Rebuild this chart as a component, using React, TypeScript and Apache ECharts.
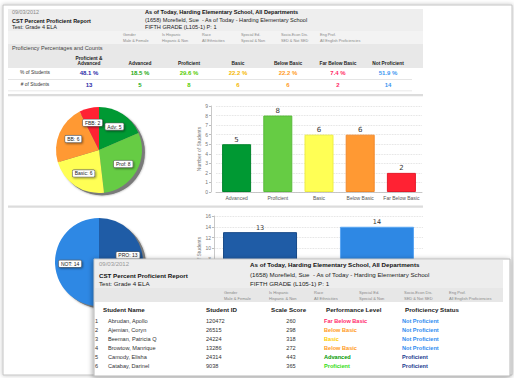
import React, { useEffect, useRef } from 'react';
import * as echarts from 'echarts';

// ---------- data ----------
const levels = ['Advanced', 'Proficient', 'Basic', 'Below Basic', 'Far Below Basic'];
const levelShort = ['Adv', 'Prof', 'Basic', 'BB', 'FBB'];
const levelCounts = [5, 8, 6, 6, 2];
const levelColors = ['#009933', '#66cc44', '#ffff55', '#ff9933', '#ff2233'];
const levelBorders = ['#00852c', '#58bb3a', '#eeee44', '#f2892a', '#e51a2a'];

const statusNames = ['Proficient', 'Not Proficient'];
const statusShort = ['PRO', 'NOT'];
const statusCounts = [13, 14];
const statusColors = ['#1f5ca6', '#2e88e4'];
const statusBorders = ['#174a88', '#5aa6f2'];

const summaryHeaders = [['Proficient &', 'Advanced'], ['Advanced'], ['Proficient'], ['Basic'], ['Below Basic'], ['Far Below Basic'], ['Not Proficient']];
const summaryPct = ['48.1 %', '18.5 %', '29.6 %', '22.2 %', '22.2 %', '7.4 %', '51.9 %'];
const summaryCounts = ['13', '5', '8', '6', '6', '2', '14'];
const summaryColors = ['#2b2ba8', '#22aa11', '#55cc00', '#f5b800', '#ff9a22', '#ff2a66', '#3a96f0'];

const filterNames = ['Gender', 'Is Hispanic', 'Race', 'Special Ed.', 'Socio-Econ Dis.', 'Eng Prof.'];
const filterValues = ['Male & Female', 'Hispanic & Non', 'All Ethnicities', 'Special & Non', 'SED & Not SED', 'All English Proficiencies'];

const tableHeaders = ['Student Name', 'Student ID', 'Scale Score', 'Performance Level', 'Proficiency Status'];
const studentNames = ['Abrudan, Apollo', 'Ajemian, Coryn', 'Beeman, Patricia Q', 'Browtow, Manrique', 'Camody, Elisha', 'Catabay, Darinel'];
const studentIds = ['120472', '26515', '24224', '13286', '24314', '9038'];
const scaleScores = ['260', '298', '318', '272', '443', '365'];
const perfLevels = ['Far Below Basic', 'Below Basic', 'Basic', 'Below Basic', 'Advanced', 'Proficient'];
const profStatus = ['Not Proficient', 'Not Proficient', 'Not Proficient', 'Not Proficient', 'Proficient', 'Proficient'];

const perfColor: Record<string, string> = {
  'Far Below Basic': '#ff2a6a',
  'Below Basic': '#ff9a1a',
  'Basic': '#ffcc00',
  'Advanced': '#009a00',
  'Proficient': '#33dd11',
};
const statusColor: Record<string, string> = {
  'Not Proficient': '#2f8cf0',
  'Proficient': '#1d3d8f',
};

const dateText = '09/03/2012';
const reportTitle = 'CST Percent Proficient Report';
const testText = 'Test: Grade 4 ELA';
const schoolLine = 'As of Today, Harding Elementary School, All Departments';
const teacherLine = '(1658) Morefield, Sue  - As of Today - Harding Elementary School';
const gradeLine = 'FIFTH GRADE (L105-1) P: 1';

const FONT = '"Liberation Sans", Arial, Helvetica, sans-serif';

function txt(x: number, y: number, text: string, size: number, o: any = {}) {
  return {
    type: 'text',
    x,
    y,
    z: o.z ?? 5,
    silent: true,
    style: {
      text,
      fontSize: size,
      fontFamily: FONT,
      fontWeight: o.bold ? 'bold' : 'normal',
      fill: o.color ?? '#333',
      textAlign: o.align ?? 'left',
      align: o.align ?? 'left',
      textVerticalAlign: 'middle',
      verticalAlign: 'middle',
    },
  };
}
function rect(x: number, y: number, w: number, h: number, fill: string, z = 1, extra: any = {}) {
  return { type: 'rect', z, silent: true, shape: { x, y, width: w, height: h }, style: { fill, ...extra } };
}

// pie geometry (layout, not data)
const PIE1 = { cx: 99, cy: 150, r: 43, labelR: 28 };
const PIE2 = { cx: 99, cy: 262, r: 44, labelR: 29 };

function buildGraphics() {
  const g: any[] = [];
  // page frame
  g.push(rect(3, 5, 509, 370, '#ffffff', 0, { stroke: '#c4c4c4', lineWidth: 1, shadowBlur: 4, shadowColor: 'rgba(0,0,0,0.25)' }));
  // top header
  g.push(rect(8, 9, 415, 22, '#eeeeee', 1));
  g.push(rect(8, 31, 415, 13, '#f3f3f3', 1));
  g.push(rect(8, 44, 415, 24, '#e8e8e8', 1));
  g.push(txt(12, 12, dateText, 5.4, { color: '#888' }));
  g.push(txt(12, 20.5, reportTitle, 5.5, { bold: true, color: '#111' }));
  g.push(txt(12, 26.7, testText, 5.5, { color: '#222' }));
  g.push(txt(145, 12, schoolLine, 5.6, { bold: true, color: '#111' }));
  g.push(txt(145, 20, teacherLine, 5.6, { color: '#222' }));
  g.push(txt(145, 26.7, gradeLine, 5.6, { color: '#222' }));
  const fx = [123, 162, 202, 241, 281, 320];
  filterNames.forEach((n, i) => {
    g.push(txt(fx[i], 35, n, 3.8, { color: '#888' }));
    g.push(txt(fx[i], 40.7, filterValues[i], 3.8, { color: '#888' }));
  });
  g.push(txt(12, 48.3, 'Proficiency Percentages and Counts', 5.6, { color: '#444' }));
  const cx = [89, 140, 189, 238, 288, 338, 388];
  summaryHeaders.forEach((h, i) => {
    if (h.length === 2) {
      g.push(txt(cx[i], 58.3, h[0], 4.8, { bold: true, color: '#222', align: 'center' }));
      g.push(txt(cx[i], 63.3, h[1], 4.8, { bold: true, color: '#222', align: 'center' }));
    } else {
      g.push(txt(cx[i], 63.3, h[0], 4.8, { bold: true, color: '#222', align: 'center' }));
    }
    g.push(txt(cx[i], 73.3, summaryPct[i], 6, { bold: true, color: summaryColors[i], align: 'center' }));
    g.push(txt(cx[i], 85, summaryCounts[i], 6, { bold: true, color: summaryColors[i], align: 'center' }));
  });
  g.push(txt(35, 72.5, '% of Students', 4.8, { color: '#333', align: 'center' }));
  g.push(txt(35, 84.3, '# of Students', 4.8, { color: '#333', align: 'center' }));
  g.push(rect(8, 79, 404, 0.8, '#dddddd', 1));
  g.push(rect(8, 90.5, 404, 0.8, '#e2e2e2', 1));
  g.push(rect(8, 94, 415, 2.2, '#dcdcdc', 1));
  g.push(rect(8, 205.5, 415, 2.2, '#dcdcdc', 1));
  // pie shadows
  g.push({ type: 'circle', z: 1, silent: true, shape: { cx: PIE1.cx + 3, cy: PIE1.cy + 2.5, r: PIE1.r }, style: { fill: '#7a7a7a', shadowBlur: 2, shadowColor: 'rgba(0,0,0,0.4)' } });
  g.push({ type: 'circle', z: 1, silent: true, shape: { cx: PIE2.cx + 3, cy: PIE2.cy + 2.5, r: PIE2.r }, style: { fill: '#7a7a7a', shadowBlur: 2, shadowColor: 'rgba(0,0,0,0.4)' } });

  // ---------- overlay panel ----------
  const Z = 30;
  g.push(rect(94, 259, 416, 117, '#ffffff', Z, { stroke: '#b8b8b8', lineWidth: 1, shadowBlur: 5, shadowColor: 'rgba(0,0,0,0.35)', shadowOffsetX: -1, shadowOffsetY: 1 }));
  g.push(rect(95, 260, 408, 28, '#ededed', Z + 1));
  g.push(rect(95, 288, 408, 14, '#e7e7e7', Z + 1));
  g.push(txt(99, 264, dateText, 6, { color: '#999', z: Z + 2 }));
  g.push(txt(99, 275, reportTitle, 6.2, { bold: true, color: '#111', z: Z + 2 }));
  g.push(txt(99, 283, testText, 6.2, { color: '#222', z: Z + 2 }));
  g.push(txt(250, 264, schoolLine, 6.2, { bold: true, color: '#111', z: Z + 2 }));
  g.push(txt(250, 274, teacherLine, 6.2, { color: '#222', z: Z + 2 }));
  g.push(txt(250, 283, gradeLine, 6.2, { color: '#222', z: Z + 2 }));
  const ox = [224, 269, 314, 359, 404, 449];
  filterNames.forEach((n, i) => {
    g.push(txt(ox[i], 292, n, 4, { color: '#888', z: Z + 2 }));
    g.push(txt(ox[i], 298, filterValues[i], 4, { color: '#888', z: Z + 2 }));
  });
  const hx = [103, 206, 271, 326, 405];
  tableHeaders.forEach((h, i) => g.push(txt(hx[i], 309, h, 6.2, { bold: true, color: '#222', z: Z + 2 })));
  studentNames.forEach((n, i) => {
    const y = 321 + i * 9;
    g.push(txt(95, y, String(i + 1), 5.6, { color: '#333', z: Z + 2 }));
    g.push(txt(108, y, n, 5.6, { color: '#333', z: Z + 2 }));
    g.push(txt(206, y, studentIds[i], 5.6, { color: '#333', z: Z + 2 }));
    g.push(txt(291, y, scaleScores[i], 5.6, { color: '#333', align: 'center', z: Z + 2 }));
    g.push(txt(324, y, perfLevels[i], 5.6, { bold: true, color: perfColor[perfLevels[i]], z: Z + 2 }));
    g.push(txt(402, y, profStatus[i], 5.6, { bold: true, color: statusColor[profStatus[i]], z: Z + 2 }));
  });
  return g;
}

const pieLabel = {
  show: true,
  position: 'inside',
  fontSize: 5,
  fontFamily: FONT,
  color: '#222',
  backgroundColor: '#ffffff',
  borderColor: '#666',
  borderWidth: 0.6,
  borderRadius: 1,
  padding: [1, 2, 0.5, 2],
  shadowColor: 'rgba(0,0,0,0.45)',
  shadowBlur: 2,
  shadowOffsetX: 1,
  shadowOffsetY: 1,
};

// place each label at the middle angle of its slice, at a fixed fraction of the radius
function sliceLabelLayout(counts: number[], geo: { cx: number; cy: number; labelR: number }, lift: number[] = []) {
  const total = counts.reduce((a, b) => a + b, 0);
  return (p: any) => {
    const i = p.dataIndex;
    let before = 0;
    for (let k = 0; k < i; k++) before += counts[k];
    const mid = ((before + counts[i] / 2) / total) * Math.PI * 2;
    return {
      x: geo.cx + geo.labelR * Math.sin(mid),
      y: geo.cy - geo.labelR * Math.cos(mid) - (lift[i] || 0),
      align: 'center',
      verticalAlign: 'middle',
    };
  };
}

function buildOption() {
  const yAxisCommon = {
    type: 'value',
    nameLocation: 'middle',
    nameTextStyle: { fontSize: 5, color: '#777', fontFamily: FONT },
    axisLine: { show: true, lineStyle: { color: '#bbb', width: 0.8 } },
    axisTick: { show: true, length: 2, lineStyle: { color: '#bbb' } },
    axisLabel: { fontSize: 5, color: '#777', margin: 3, fontFamily: FONT },
    splitLine: { show: true, lineStyle: { type: 'dotted', color: '#d8d8d8', width: 0.8 } },
  };
  return {
    animation: false,
    backgroundColor: '#ffffff',
    graphic: { elements: buildGraphics() },
    grid: [
      { left: 216, right: 92, top: 106, bottom: 186 },
      { left: 214, right: 91, top: 216, bottom: 76 },
    ],
    xAxis: [
      {
        type: 'category', gridIndex: 0, data: levels,
        axisLine: { lineStyle: { color: '#bbb', width: 0.8 } },
        axisTick: { show: false },
        axisLabel: { fontSize: 5, color: '#555', margin: 3, interval: 0, fontFamily: FONT },
      },
      {
        type: 'category', gridIndex: 1, data: ['Students'],
        axisLine: { lineStyle: { color: '#bbb', width: 0.8 } },
        axisTick: { show: false },
        axisLabel: { show: false },
      },
    ],
    yAxis: [
      { ...yAxisCommon, gridIndex: 0, min: 0, max: 9, interval: 1, offset: 5, name: 'Number of Students', nameGap: 8 },
      { ...yAxisCommon, gridIndex: 1, min: 0, max: 16, interval: 2, name: 'Number of Students', nameGap: 10 },
    ],
    series: [
      {
        type: 'pie', center: [PIE1.cx, PIE1.cy], radius: [0, PIE1.r], startAngle: 90, clockwise: true,
        avoidLabelOverlap: false, silent: true,
        label: { ...pieLabel, formatter: (p: any) => `${levelShort[p.dataIndex]}: ${p.value}` },
        labelLine: { show: false },
        labelLayout: sliceLabelLayout(levelCounts, PIE1),
        data: levels.map((n, i) => ({ name: n, value: levelCounts[i], itemStyle: { color: levelColors[i] } })),
      },
      {
        type: 'bar', xAxisIndex: 0, yAxisIndex: 0, barWidth: 29,
        label: { show: true, position: 'top', distance: 1, fontSize: 7, color: '#333', fontFamily: 'DejaVu Sans' },
        data: levelCounts.map((v, i) => ({ value: v, itemStyle: { color: levelColors[i], borderColor: levelBorders[i], borderWidth: 1 } })),
      },
      {
        type: 'pie', center: [PIE2.cx, PIE2.cy], radius: [0, PIE2.r], startAngle: 90, clockwise: true,
        avoidLabelOverlap: false, silent: true,
        label: { ...pieLabel, formatter: (p: any) => `${statusShort[p.dataIndex]}: ${p.value}` },
        labelLine: { show: false },
        labelLayout: sliceLabelLayout(statusCounts, PIE2, [5, 0]),
        data: statusNames.map((n, i) => ({ name: n, value: statusCounts[i], itemStyle: { color: statusColors[i] } })),
      },
      ...statusNames.map((n, i) => ({
        type: 'bar', name: n, xAxisIndex: 1, yAxisIndex: 1, barWidth: 74, barGap: '58%',
        label: { show: true, position: 'top', distance: 1, fontSize: 6.5, color: '#333', fontFamily: 'DejaVu Sans' },
        itemStyle: { color: statusColors[i], borderColor: statusBorders[i], borderWidth: 1 },
        data: [statusCounts[i]],
      })),
    ],
  };
}

export default function App() {
  const ref = useRef<HTMLDivElement>(null);
  useEffect(() => {
    if (!ref.current) return;
    const chart = echarts.init(ref.current, undefined, { renderer: 'svg' });
    chart.setOption(buildOption() as any);
    return () => chart.dispose();
  }, []);
  return <div ref={ref} style={{ position: 'absolute', left: 0, top: 0, width: 514, height: 378 }} />;
}
